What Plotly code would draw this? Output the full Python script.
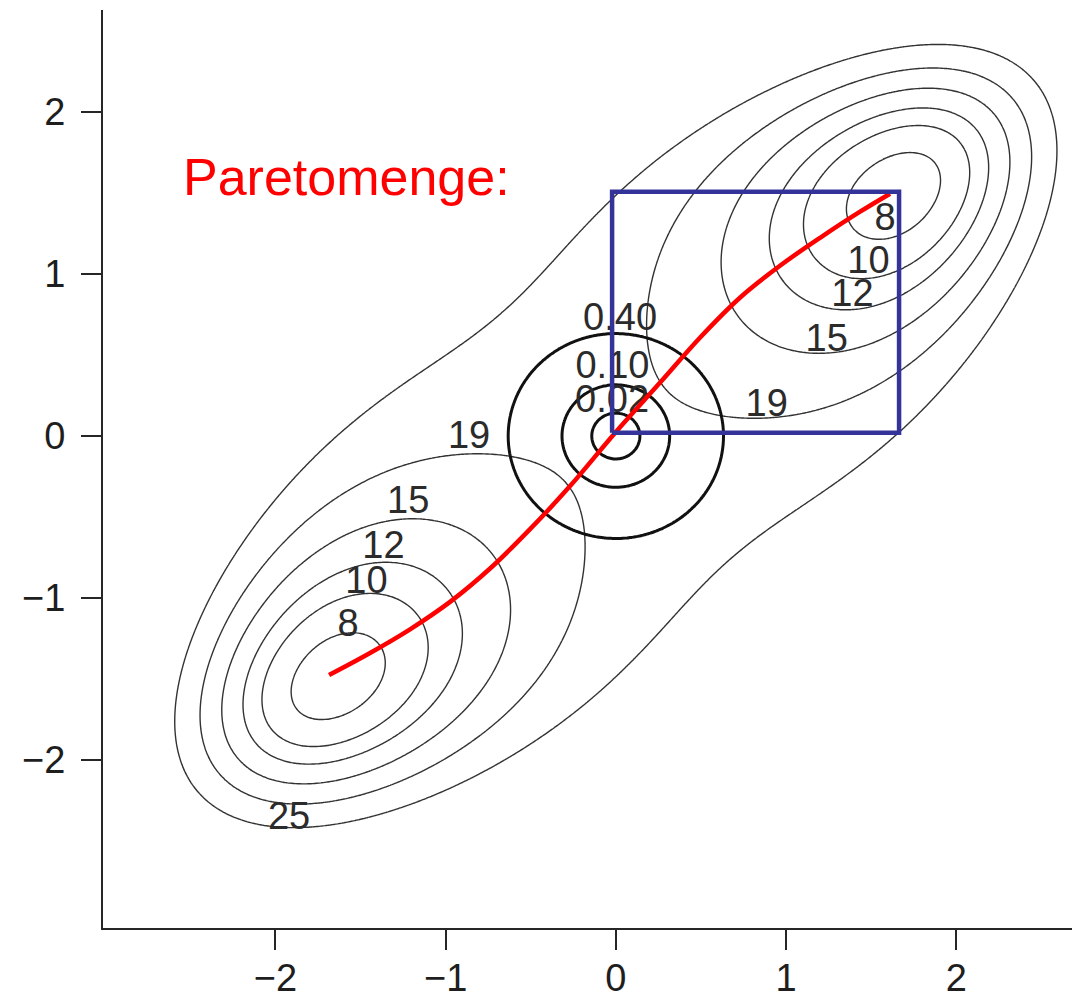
import numpy as np
import plotly.graph_objects as go

# ---- contour levels and their label positions ----
f1_levels = [8, 10, 12, 15, 19, 25]
f2_levels = [0.02, 0.10, 0.40]

# label anchors (x, y) for f1 (lower-left well, upper-right well) and f2
f1_label_text = ["8", "10", "12", "15", "19", "25", "8", "10", "12", "15", "19"]
f1_label_x = [-1.573, -1.465, -1.365, -1.22, -0.862, -1.92, 1.582, 1.484, 1.39, 1.239, 0.886]
f1_label_y = [-1.177, -0.909, -0.693, -0.415, -0.014, -2.37, 1.333, 1.066, 0.859, 0.582, 0.181]
f2_label_text = ["0.02", "0.10", "0.40"]
f2_label_x = [-0.022, -0.02, 0.025]
f2_label_y = [0.21, 0.42, 0.716]

# ---- f1: double well along the line through its two minima ----
f1_min_x, f1_min_y = 1.65, 1.5      # second minimum at (-1.65, -1.5)
f1_floor = 7.0
f1_well = 0.52
f1_cross0 = 5.0
f1_cross2 = 3.1

# ---- Pareto set (red curve) ----
pareto_x = [-1.685, -1.444, -1.209, -0.974, -0.739, -0.504, -0.269, -0.005,
            0.260, 0.494, 0.729, 0.964, 1.200, 1.435, 1.611]
pareto_y = [-1.475, -1.339, -1.193, -1.024, -0.818, -0.575, -0.309, 0.019,
            0.330, 0.607, 0.854, 1.051, 1.224, 1.385, 1.496]

# ---- highlighted box ----
box_x = [-0.022, 1.664, 1.664, -0.022, -0.022]
box_y = [0.02, 0.02, 1.508, 1.508, 0.02]

x_ticks = [-2, -1, 0, 1, 2]
y_ticks = [-2, -1, 0, 1, 2]
tick_text = ["\u22122", "\u22121", "0", "1", "2"]
x_range = [-3.013, 2.680]
y_range = [-3.037, 2.630]

# evaluation grid
gx = np.linspace(-3.1, 2.8, 480)
gy = np.linspace(-3.1, 2.8, 480)
X, Y = np.meshgrid(gx, gy)

ang = np.arctan2(f1_min_y, f1_min_x)
c2 = f1_min_x ** 2 + f1_min_y ** 2
U = X * np.cos(ang) + Y * np.sin(ang)
V = -X * np.sin(ang) + Y * np.cos(ang)
Z1 = f1_floor + f1_well * (U ** 2 - c2) ** 2 + (f1_cross0 + f1_cross2 * U ** 2) * V ** 2
Z2 = X ** 2 + Y ** 2

fig = go.Figure()

for lev in f1_levels:
    fig.add_trace(go.Contour(
        x=gx, y=gy, z=Z1, autocontour=False,
        contours=dict(start=lev, end=lev, size=1, coloring="none"),
        line=dict(color="#333333", width=1.4),
        showscale=False, hoverinfo="skip", showlegend=False,
    ))

for lev in f2_levels:
    fig.add_trace(go.Contour(
        x=gx, y=gy, z=Z2, autocontour=False,
        contours=dict(start=lev, end=lev, size=1, coloring="none"),
        line=dict(color="#111111", width=3),
        showscale=False, hoverinfo="skip", showlegend=False,
    ))

label_font = dict(family="Liberation Sans, Arial, sans-serif", size=38, color="#2b2b2b")
fig.add_trace(go.Scatter(
    x=f1_label_x + f2_label_x, y=f1_label_y + f2_label_y,
    text=f1_label_text + f2_label_text, mode="text",
    textposition="middle center", textfont=label_font,
    hoverinfo="skip", showlegend=False,
))

fig.add_trace(go.Scatter(
    x=pareto_x, y=pareto_y, mode="lines",
    line=dict(color="#ff0000", width=4.5, shape="spline", smoothing=1.0),
    hoverinfo="skip", showlegend=False,
))

fig.add_trace(go.Scatter(
    x=box_x, y=box_y, mode="lines",
    line=dict(color="#333399", width=4.5),
    hoverinfo="skip", showlegend=False,
))

fig.add_annotation(
    x=-2.555, y=1.60, xref="x", yref="y", text="Paretomenge:",
    showarrow=False, xanchor="left", yanchor="middle",
    font=dict(family="Liberation Sans, Arial, sans-serif", size=52, color="#ff0000"),
)

axis_common = dict(
    showgrid=False, zeroline=False, showline=True, linewidth=2,
    linecolor="#262626", ticks="outside", ticklen=20, tickwidth=2,
    tickcolor="#262626", automargin=False,
    tickfont=dict(family="Liberation Sans, Arial, sans-serif", size=38, color="#1e1e1e"),
)

fig.update_layout(
    width=1072, height=1002,
    margin=dict(l=103, r=0, t=10, b=74),
    plot_bgcolor="white", paper_bgcolor="white",
    xaxis=dict(range=x_range, tickvals=x_ticks, ticktext=tick_text,
               ticklabelstandoff=-5, **axis_common),
    yaxis=dict(range=y_range, tickvals=y_ticks, ticktext=tick_text,
               ticklabelstandoff=8, **axis_common),
)

fig.write_html("out.html")
